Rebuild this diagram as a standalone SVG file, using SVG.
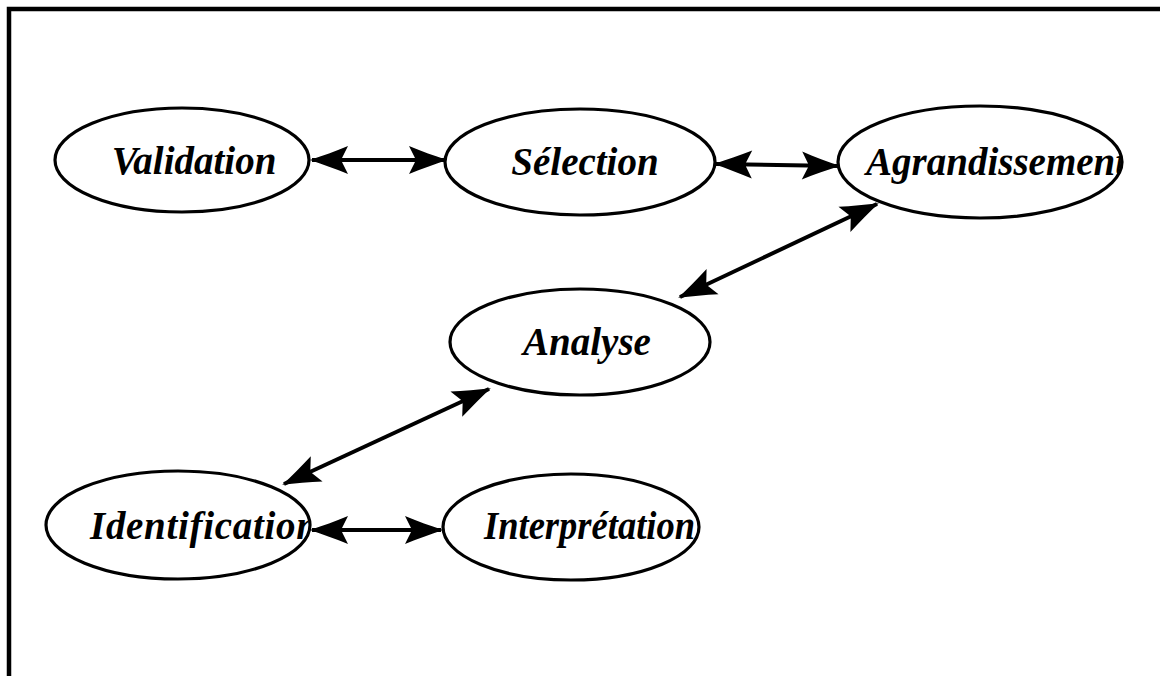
<svg xmlns="http://www.w3.org/2000/svg" width="1160" height="676" viewBox="0 0 1160 676">
<style>
.node ellipse{fill:#fff;stroke:#000;stroke-width:3.2}
.node text{font-family:"Liberation Serif","Times New Roman",serif;font-weight:bold;font-style:italic;font-size:39px;fill:#000;text-anchor:middle}
.conn line{stroke:#000;stroke-width:4;marker-start:url(#dart);marker-end:url(#dart)}
</style>
<defs>
<marker id="dart" markerUnits="userSpaceOnUse" viewBox="-40 -16 42 32" refX="0" refY="0" markerWidth="42" markerHeight="32" orient="auto-start-reverse">
<path d="M2,0 C-10,-4 -24,-9 -36,-14 L-30,-2 L-30,2 L-36,14 C-24,9 -10,4 2,0 Z" fill="#000"/>
</marker>
<clipPath id="clipAgr"><ellipse cx="980" cy="162" rx="141" ry="55"/></clipPath>
<clipPath id="clipIde"><ellipse cx="178" cy="525" rx="131" ry="53"/></clipPath>
</defs>
<rect width="1160" height="676" fill="#fff"/>
<path d="M9,676 V9 H1160" fill="none" stroke="#000" stroke-width="4.5"/>
<g class="conn">
<line x1="312" y1="160" x2="445" y2="160"/>
<line x1="716" y1="164" x2="838" y2="166"/>
<line x1="877" y1="204" x2="680" y2="297"/>
<line x1="489" y1="389" x2="284" y2="484"/>
<line x1="312" y1="530" x2="441" y2="530"/>
</g>
<g id="validation" class="node"><ellipse cx="182" cy="160" rx="127" ry="52"/><text x="194" y="174">Validation</text></g>
<g id="selection" class="node"><ellipse cx="580" cy="162" rx="135" ry="53"/><text x="585" y="175">Sélection</text></g>
<g id="agrandissement" class="node"><ellipse cx="980" cy="162" rx="142" ry="56"/><text x="866" y="175" clip-path="url(#clipAgr)" style="text-anchor:start">Agrandissement</text></g>
<g id="analyse" class="node"><ellipse cx="580" cy="342" rx="130" ry="53"/><text x="587" y="355">Analyse</text></g>
<g id="identification" class="node"><ellipse cx="178" cy="525" rx="132" ry="54"/><text x="90" y="539" textLength="228" lengthAdjust="spacing" clip-path="url(#clipIde)" style="text-anchor:start">Identification</text></g>
<g id="interpretation" class="node"><ellipse cx="571" cy="527" rx="128" ry="53"/><text x="484" y="539" textLength="211" lengthAdjust="spacingAndGlyphs" style="text-anchor:start">Interprétation</text></g>
</svg>
